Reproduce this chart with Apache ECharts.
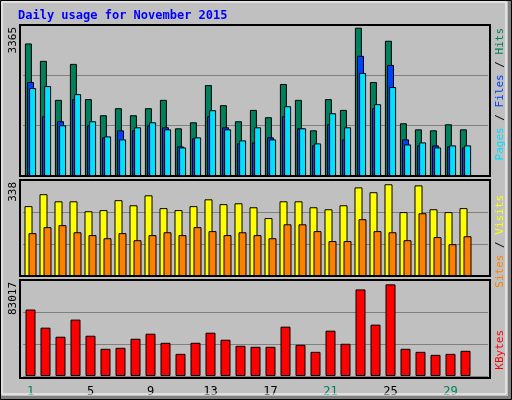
<!DOCTYPE html>
<html><head><meta charset="utf-8">
<script src="https://cdn.jsdelivr.net/npm/echarts@6/dist/echarts.min.js"></script>
<style>html,body{margin:0;padding:0;background:#C0C0C0}#c{width:512px;height:400px}</style>
</head><body><div id="c"></div>
<script>
const days = ['1','2','3','4','5','6','7','8','9','10','11','12','13','14','15','16','17','18','19','20','21','22','23','24','25','26','27','28','29','30','31'];
const weekend = ['1','7','8','14','15','21','22','28','29'];
const hits  = [2954,2566,1697,2498,1713,1354,1511,1354,1511,1697,1063,1197,2027,1578,1220,1473,1310,2050,1697,1018,1713,1473,3305,2095,3014,1175,1040,1018,1153,1040,null];
const files = [2095,1332,1220,1713,1130,861,1018,1018,1130,1085,659,839,1332,1085,727,749,861,1332,1063,682,1153,816,2678,1511,2475,816,682,682,659,637,null];
const pages = [1960,2004,1130,1825,1220,883,816,1085,1197,1040,637,861,1466,1040,794,1085,816,1556,1063,727,1399,1085,2296,1601,1982,704,749,637,682,682,null];
const visits= [246,288,263,263,228,232,267,249,284,239,232,246,270,253,256,242,204,263,263,242,235,249,312,295,323,225,319,235,225,239,null];
const sites = [151,172,179,154,144,133,151,126,144,154,144,172,158,144,154,144,133,182,182,158,123,123,200,158,154,126,221,137,112,140,null];
const kbytes= [57474,41799,33962,48765,34833,23512,24383,32220,36574,28737,19158,28737,37445,31349,26125,25254,25254,42670,26995,20900,39186,27866,74890,44411,79244,23512,20900,18287,19158,21771,null];
const maxHits = 3365, maxVisits = 338, maxKB = 83017;

const chart = echarts.init(document.getElementById('c'));
const F = 'DejaVu Sans Mono';
const grids = [
  {left:23, right:24, top:25, height:151},
  {left:23, right:24, top:180, height:96},
  {left:23, right:24, top:280, height:96}
];
const maxes=[maxHits,maxVisits,maxKB];
function xa(i){return {type:'category',gridIndex:i,data:days,boundaryGap:true,
  axisLine:{show:false},axisTick:{show:false},
  axisLabel:{show:i===2,margin:10,fontFamily:F,fontSize:12,
    formatter:v=>weekend.includes(v)?'{w|'+v+'}':'{n|'+v+'}',
    rich:{w:{color:'#00805C',fontFamily:F,fontSize:12},n:{color:'#000',fontFamily:F,fontSize:12}}}};}
function ya(i){return {type:'value',gridIndex:i,min:0,max:maxes[i],interval:maxes[i]/3,
  axisLabel:{show:false},axisLine:{show:false},axisTick:{show:false},
  splitLine:{show:true,lineStyle:{color:'#808080',width:1}}};}
function bar(name,data,g,color,w,gap,z){return {name,type:'bar',xAxisIndex:g,yAxisIndex:g,data,
  barWidth:w,barGap:gap,z,itemStyle:{color,borderColor:'#000',borderWidth:1},animation:false};}
function rt(x,y,rich,text){return {type:'text',x,y,rotation:Math.PI/2,
  style:{text,rich,textAlign:'right',textVerticalAlign:'middle',fontFamily:F,fontSize:11}};}
function box(y,h){return {type:'rect',shape:{x:20,y,width:470,height:h},style:{fill:null,stroke:'#000',lineWidth:2},z:10};}
chart.setOption({
  backgroundColor:'#C0C0C0',
  animation:false,
  grid:grids,
  xAxis:[xa(0),xa(1),xa(2)],
  yAxis:[ya(0),ya(1),ya(2)],
  series:[
    bar('Hits',hits,0,'#00805C',7,'-70%',2),
    bar('Files',files,0,'#0040FF',7,'-70%',3),
    bar('Pages',pages,0,'#00E0FF',7,'-70%',4),
    bar('Visits',visits,1,'#FFFF00',8,'-50%',2),
    bar('Sites',sites,1,'#FF8000',8,'-50%',3),
    bar('KBytes',kbytes,2,'#FF0000',10,'0%',2)
  ],
  graphic:[
    {type:'rect',shape:{x:508,y:0,width:4,height:400},style:{fill:'#808080'}},
    {type:'rect',shape:{x:0,y:396,width:512,height:4},style:{fill:'#808080'}},
    {type:'rect',shape:{x:0.5,y:0.5,width:511,height:399},style:{fill:null,stroke:'#000',lineWidth:1},z:20},
    {type:'rect',shape:{x:2,y:2,width:504,height:392},style:{fill:null,stroke:'#fff',lineWidth:1},z:20},
    box(25,151),box(180,96),box(280,98),
    {type:'text',x:18,y:10,style:{text:'Daily usage for November 2015',fill:'#0000FF',fontFamily:F,fontSize:12,fontWeight:'bold'}},
    rt(13,27,{},'3365'),
    rt(13,182,{},'338'),
    rt(13,282,{},'83017'),
    rt(500,28,{p:{fill:'#00E0FF',fontFamily:F,fontSize:11},s:{fill:'#000',fontFamily:F,fontSize:11},f:{fill:'#0040FF',fontFamily:F,fontSize:11},h:{fill:'#00805C',fontFamily:F,fontSize:11}},'{p|Pages}{s| / }{f|Files}{s| / }{h|Hits}'),
    rt(500,195,{a:{fill:'#FF8000',fontFamily:F,fontSize:11},s:{fill:'#000',fontFamily:F,fontSize:11},v:{fill:'#FFFF00',fontFamily:F,fontSize:11}},'{a|Sites}{s| / }{v|Visits}'),
    rt(500,330,{k:{fill:'#FF0000',fontFamily:F,fontSize:11}},'{k|KBytes}')
  ]
});
</script></body></html>
